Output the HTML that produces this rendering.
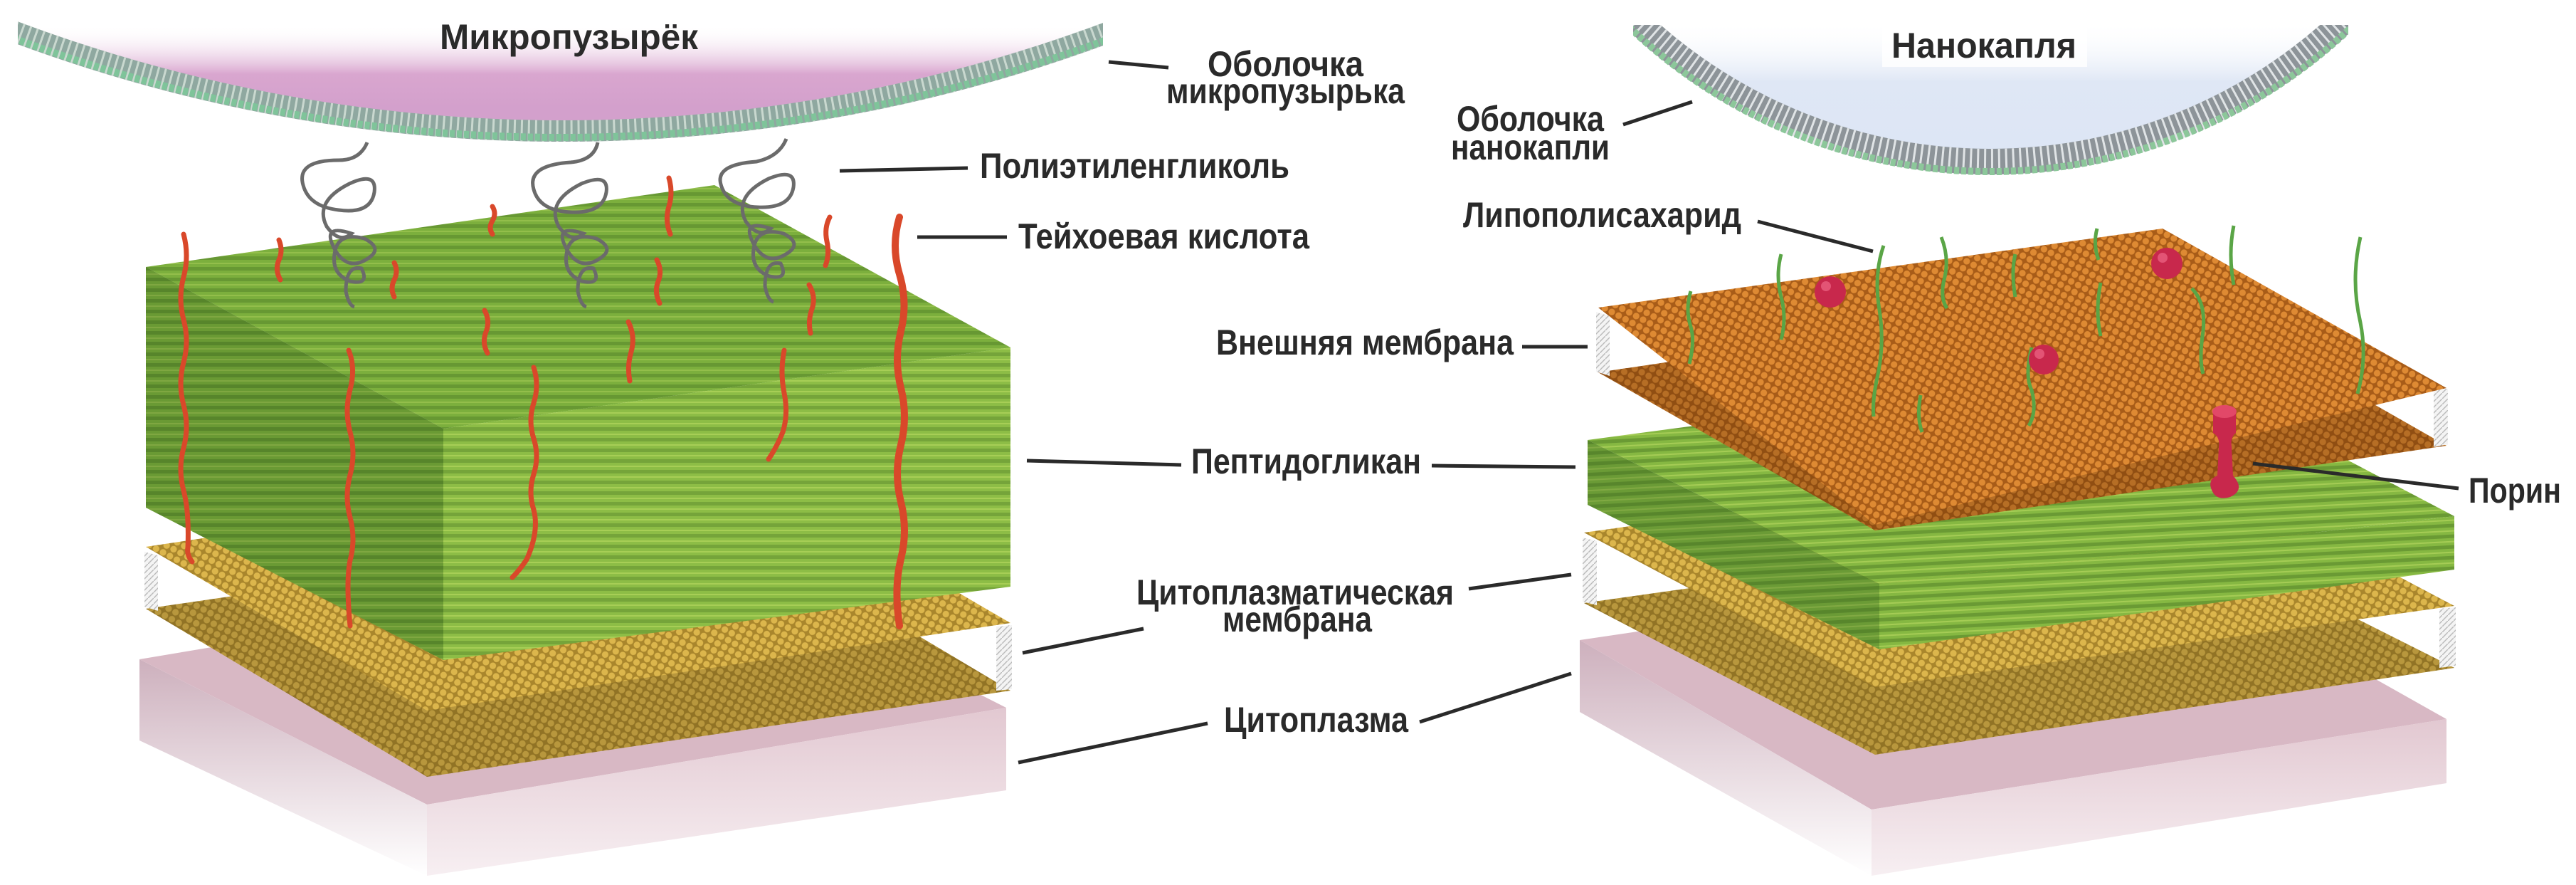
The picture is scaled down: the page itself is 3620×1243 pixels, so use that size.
<!DOCTYPE html>
<html><head><meta charset="utf-8"><style>
html,body{margin:0;padding:0;background:#fff}
svg{display:block}
text{font-family:"Liberation Sans",sans-serif;font-weight:bold;fill:#2a2a2a;font-size:50px}
</style></head><body>
<svg width="3620" height="1243" viewBox="0 0 3620 1243" xmlns="http://www.w3.org/2000/svg">
<defs>
<pattern id="gs" width="24" height="15" patternUnits="userSpaceOnUse">
<rect width="24" height="15" fill="#86b842"/><rect y="0" width="24" height="5" fill="#6a9a34"/><rect y="9" width="24" height="2" fill="#a5cc55"/></pattern>
<pattern id="gsr" width="24" height="15" patternUnits="userSpaceOnUse" patternTransform="rotate(-3)">
<rect width="24" height="15" fill="#86b842"/><rect y="0" width="24" height="5" fill="#6a9a34"/><rect y="9" width="24" height="2" fill="#a5cc55"/></pattern>
<pattern id="yd" width="11" height="11" patternUnits="userSpaceOnUse" patternTransform="rotate(28)">
<rect width="11" height="11" fill="#a9862c"/><circle cx="5.5" cy="5.5" r="4.6" fill="#dcb64c"/></pattern>
<pattern id="od" width="11" height="11" patternUnits="userSpaceOnUse" patternTransform="rotate(28)">
<rect width="11" height="11" fill="#a85c18"/><circle cx="5.5" cy="5.5" r="4.6" fill="#de8a33"/></pattern>
<pattern id="wt" width="8" height="8" patternUnits="userSpaceOnUse">
<rect width="8" height="8" fill="#f4f4f4"/><path d="M0 8 L8 0" stroke="#bbb" stroke-width="1.5"/></pattern>
<linearGradient id="pk" gradientUnits="userSpaceOnUse" x1="0" y1="35" x2="0" y2="150"><stop offset="0" stop-color="#fff" stop-opacity="0"/><stop offset="0.6" stop-color="#d9a6cf"/><stop offset="1" stop-color="#d3a0cc"/></linearGradient>
<linearGradient id="bl" gradientUnits="userSpaceOnUse" x1="0" y1="30" x2="0" y2="200"><stop offset="0" stop-color="#fff" stop-opacity="0"/><stop offset="0.5" stop-color="#dfe7f5"/><stop offset="1" stop-color="#dde6f5"/></linearGradient>
<linearGradient id="fadeL" x1="0" y1="0" x2="0" y2="1"><stop offset="0" stop-color="#cdb0bd"/><stop offset="1" stop-color="#fff"/></linearGradient>
<linearGradient id="fadeR" x1="0" y1="0" x2="0" y2="1"><stop offset="0" stop-color="#e2c8d1"/><stop offset="1" stop-color="#f7eff2"/></linearGradient>
<clipPath id="cm"><rect x="25" y="30" width="1525" height="180"/></clipPath>
<clipPath id="cn"><rect x="2295" y="35" width="1005" height="220"/></clipPath>
</defs>

<!-- Microbubble -->
<g clip-path="url(#cm)">
<circle cx="790" cy="-2009" r="2190" fill="url(#pk)"/>
<circle cx="790" cy="-2009" r="2193" fill="none" stroke="#8fa8a0" stroke-width="30"/>
<circle cx="790" cy="-2009" r="2193" fill="none" stroke="#c9d8cf" stroke-width="30" stroke-dasharray="3 7"/>
<circle cx="790" cy="-2009" r="2202" fill="none" stroke="#7fc49a" stroke-width="10" stroke-dasharray="7 3"/>
</g>
<!-- Nanodroplet -->
<g clip-path="url(#cn)">
<circle cx="2797" cy="-495" r="715" fill="url(#bl)"/>
<circle cx="2797" cy="-495" r="722" fill="none" stroke="#8d9499" stroke-width="36"/>
<circle cx="2797" cy="-495" r="722" fill="none" stroke="#e0e4e6" stroke-width="36" stroke-dasharray="3 7"/>
<circle cx="2797" cy="-495" r="736" fill="none" stroke="#8cc79a" stroke-width="10" stroke-dasharray="7 3"/>
</g>
<rect x="2645" y="36" width="288" height="58" fill="#fff" opacity="0.8"/>

<!-- LEFT STACK -->
<polygon points="196,926 1010,790 1414,994 600,1130" fill="#d8b8c4"/>
<polygon points="196,926 600,1130 600,1230 196,1040" fill="url(#fadeL)"/>
<polygon points="600,1130 1414,994 1414,1110 600,1230" fill="url(#fadeR)"/>
<!-- yellow membrane -->
<polygon points="205,855 1025,735 1420,970 600,1091" fill="url(#yd)"/>
<polygon points="205,855 1025,735 1420,970 600,1091" fill="#4a3a10" opacity="0.25"/>
<polygon points="203,775 222,780 222,858 203,852" fill="url(#wt)"/>
<polygon points="1400,880 1422,878 1422,968 1400,970" fill="url(#wt)"/>
<polygon points="205,768 1025,645 1420,875 600,998" fill="url(#yd)"/>
<!-- green box -->
<polygon points="205,375 1004,260 1420,488 623,602" fill="url(#gs)"/>
<polygon points="205,375 1004,260 1420,488 623,602" fill="#5f9330" opacity="0.25"/>
<polygon points="205,375 623,602 623,927 205,713" fill="url(#gs)"/>
<polygon points="205,375 623,602 623,927 205,713" fill="#2f5a1a" opacity="0.32"/>
<polygon points="623,602 1420,488 1420,824 623,927" fill="url(#gs)"/>
<polygon points="623,602 1420,488 1420,824 623,927" fill="#b8e060" opacity="0.15"/>

<!-- teichoic acid chains -->
<g fill="none" stroke="#d9482a" stroke-width="7" stroke-linecap="round">
<path d="M258 329 q8 30 0 60 q-8 30 0 60 q8 30 0 60 q-8 30 0 60 q8 30 0 60 q-8 30 0 60 q8 30 6 80 q-2 10 6 20"/>
<path d="M392 337 q6 15 0 28 q-6 14 2 28"/>
<path d="M554 369 q6 12 0 24 q-6 12 0 24"/>
<path d="M490 492 q10 25 2 55 q-8 30 0 60 q8 30 0 60 q-8 30 0 60 q8 30 0 60 q-6 30 0 92"/>
<path d="M692 290 q6 10 0 20 q-6 10 0 19"/>
<path d="M681 436 q8 15 2 30 q-6 15 2 30"/>
<path d="M750 516 q8 25 0 50 q-8 25 0 50 q8 25 0 50 q-8 25 0 50 q8 30 -10 70 q-10 15 -20 25"/>
<path d="M940 250 q6 20 0 40 q-6 20 2 39"/>
<path d="M923 365 q8 15 2 30 q-6 15 2 31"/>
<path d="M883 452 q10 20 4 42 q-6 20 -2 41"/>
<path d="M1166 305 q-8 15 -4 34 q4 18 -2 34"/>
<path d="M1137 400 q10 17 4 34 q-6 17 -2 34"/>
<path d="M1102 492 q-6 30 0 60 q6 30 -2 55 q-8 20 -20 38"/>
<path d="M1264 305 q-12 40 0 80 q12 40 2 80 q-10 40 0 80 q10 40 0 80 q-10 40 0 80 q10 40 0 80 q-10 40 -2 94" stroke-width="10"/>
</g>
<!-- PEG coils -->
<g fill="none" stroke="#6b6b6b" stroke-width="5">
<path d="M516 200 q-10 25 -40 25 q-60 0 -50 35 q8 30 50 35 q45 6 50 -25 q4 -30 -35 -12 q-50 25 -32 60 q18 25 35 10 q-45 -15 -22 25 q18 28 45 10 q22 -14 -5 -28 q-38 -10 -42 22 q-4 28 22 38 q28 6 16 -18 q-22 -5 -22 32 q4 20 12 22"/>
<path d="M840 200 q-5 25 -38 28 q-62 4 -52 38 q8 30 52 32 q45 2 50 -28 q4 -28 -35 -12 q-50 25 -32 60 q18 25 35 10 q-45 -15 -22 25 q18 28 45 10 q22 -14 -5 -28 q-38 -10 -42 22 q-4 28 22 38 q28 6 16 -18 q-22 -5 -22 32 q4 20 12 22"/>
<path d="M1105 195 q-10 25 -42 32 q-58 4 -50 32 q8 30 52 32 q45 2 50 -28 q4 -28 -35 -12 q-50 25 -32 60 q18 25 35 10 q-45 -15 -22 25 q18 28 45 10 q22 -14 -5 -28 q-38 -10 -42 22 q-4 28 22 38 q28 6 16 -18 q-22 -5 -22 32 q4 20 12 22"/>
</g>

<!-- RIGHT STACK -->
<polygon points="2220,899 3030,780 3438,1010 2630,1137" fill="#d8b8c4"/>
<polygon points="2220,899 2630,1137 2630,1230 2220,1000" fill="url(#fadeL)"/>
<polygon points="2630,1137 3438,1010 3438,1100 2630,1230" fill="url(#fadeR)"/>
<!-- yellow membrane -->
<polygon points="2226,847 3040,732 3449,938 2635,1060" fill="url(#yd)"/>
<polygon points="2226,847 3040,732 3449,938 2635,1060" fill="#4a3a10" opacity="0.25"/>
<polygon points="2224,755 2244,760 2244,850 2224,845" fill="url(#wt)"/>
<polygon points="3428,855 3451,853 3451,935 3428,938" fill="url(#wt)"/>
<polygon points="2226,748 3040,635 3449,851 2635,965" fill="url(#yd)"/>
<!-- green slab -->
<polygon points="2231,618 3040,510 3449,725 2641,820" fill="url(#gsr)"/>
<polygon points="2231,618 2641,820 2641,912 2231,709" fill="url(#gsr)"/>
<polygon points="2231,618 2641,820 2641,912 2231,709" fill="#2f5a1a" opacity="0.3"/>
<polygon points="2641,820 3449,725 3449,800 2641,912" fill="url(#gsr)"/>
<!-- orange outer membrane -->
<polygon points="2246,523 3049,404 3438,626 2635,745" fill="url(#od)"/>
<polygon points="2246,523 3049,404 3438,626 2635,745" fill="#5a2e08" opacity="0.3"/>
<polygon points="2243,438 2262,444 2262,528 2243,522" fill="url(#wt)"/>
<polygon points="3420,548 3440,546 3440,624 3420,628" fill="url(#wt)"/>
<polygon points="2246,432 3039,321 3438,545 2635,737" fill="url(#od)"/>
<!-- porin -->
<path d="M3110 580 q16 -14 32 0 l0 28 q-8 6 -6 20 l2 40 q18 20 -4 30 q-20 6 -26 -10 q-6 -14 8 -20 l2 -40 q2 -14 -8 -20 z" fill="#c8284c"/>
<ellipse cx="3126" cy="578" rx="17" ry="9" fill="#e24868"/>
<!-- LPS strands -->
<g fill="none" stroke="#5aa546" stroke-width="5">
<path d="M2376 409 q-8 25 0 50 q6 20 -2 52"/>
<path d="M2503 357 q-8 30 0 60 q8 30 0 60"/>
<path d="M2647 345 q-14 40 -6 90 q8 50 -4 100 q-6 30 -4 50"/>
<path d="M2728 333 q12 30 4 60 q-6 25 4 40"/>
<path d="M2832 357 q-6 25 0 60"/>
<path d="M2947 321 q-6 22 2 44"/>
<path d="M2952 397 q-8 40 0 75"/>
<path d="M3139 317 q-8 40 0 83"/>
<path d="M3317 333 q-14 60 0 120 q10 50 -4 100"/>
<path d="M3080 405 q20 20 16 60 q-6 40 0 60"/>
<path d="M2855 488 q-10 40 0 60 q8 30 -4 50"/>
<path d="M2699 555 q-6 30 2 52"/>
</g>
<g fill="#c8284c">
<circle cx="2572" cy="410" r="22"/><circle cx="3045" cy="370" r="22"/><circle cx="2872" cy="505" r="21"/>
</g>
<g fill="#ee6688" opacity="0.7"><circle cx="2566" cy="402" r="7"/><circle cx="3039" cy="362" r="7"/><circle cx="2866" cy="497" r="7"/></g>

<!-- LEADER LINES -->
<g stroke="#2a2a2a" stroke-width="5" fill="none">
<line x1="1558" y1="87" x2="1642" y2="95"/>
<line x1="1180" y1="240" x2="1360" y2="236"/>
<line x1="1289" y1="333" x2="1415" y2="333"/>
<line x1="1443" y1="647" x2="1660" y2="653"/>
<line x1="1437" y1="917" x2="1607" y2="883"/>
<line x1="1431" y1="1071" x2="1697" y2="1016"/>
<line x1="2281" y1="175" x2="2378" y2="143"/>
<line x1="2470" y1="311" x2="2632" y2="353"/>
<line x1="2139" y1="487" x2="2231" y2="487"/>
<line x1="2012" y1="654" x2="2214" y2="656"/>
<line x1="2064" y1="827" x2="2208" y2="807"/>
<line x1="1995" y1="1014" x2="2208" y2="946"/>
<line x1="3166" y1="651" x2="3455" y2="686"/>
</g>

<!-- LABELS -->
<text x="618" y="69" textLength="363" lengthAdjust="spacingAndGlyphs">Микропузырёк</text>
<text x="1697" y="107" textLength="219" lengthAdjust="spacingAndGlyphs">Оболочка</text>
<text x="1639" y="145" textLength="335" lengthAdjust="spacingAndGlyphs">микропузырька</text>
<text x="1377" y="250" textLength="435" lengthAdjust="spacingAndGlyphs">Полиэтиленгликоль</text>
<text x="1431" y="349" textLength="409" lengthAdjust="spacingAndGlyphs">Тейхоевая кислота</text>
<text x="1674" y="665" textLength="323" lengthAdjust="spacingAndGlyphs">Пептидогликан</text>
<text x="1597" y="849" textLength="446" lengthAdjust="spacingAndGlyphs">Цитоплазматическая</text>
<text x="1718" y="887" textLength="210" lengthAdjust="spacingAndGlyphs">мембрана</text>
<text x="1720" y="1028" textLength="259" lengthAdjust="spacingAndGlyphs">Цитоплазма</text>
<text x="2658" y="81" textLength="260" lengthAdjust="spacingAndGlyphs">Нанокапля</text>
<text x="2047" y="184" textLength="207" lengthAdjust="spacingAndGlyphs">Оболочка</text>
<text x="2039" y="224" textLength="223" lengthAdjust="spacingAndGlyphs">нанокапли</text>
<text x="2056" y="319" textLength="391" lengthAdjust="spacingAndGlyphs">Липополисахарид</text>
<text x="1709" y="498" textLength="418" lengthAdjust="spacingAndGlyphs">Внешняя мембрана</text>
<text x="3469" y="706" textLength="130" lengthAdjust="spacingAndGlyphs">Порин</text>
</svg>
</body></html>
